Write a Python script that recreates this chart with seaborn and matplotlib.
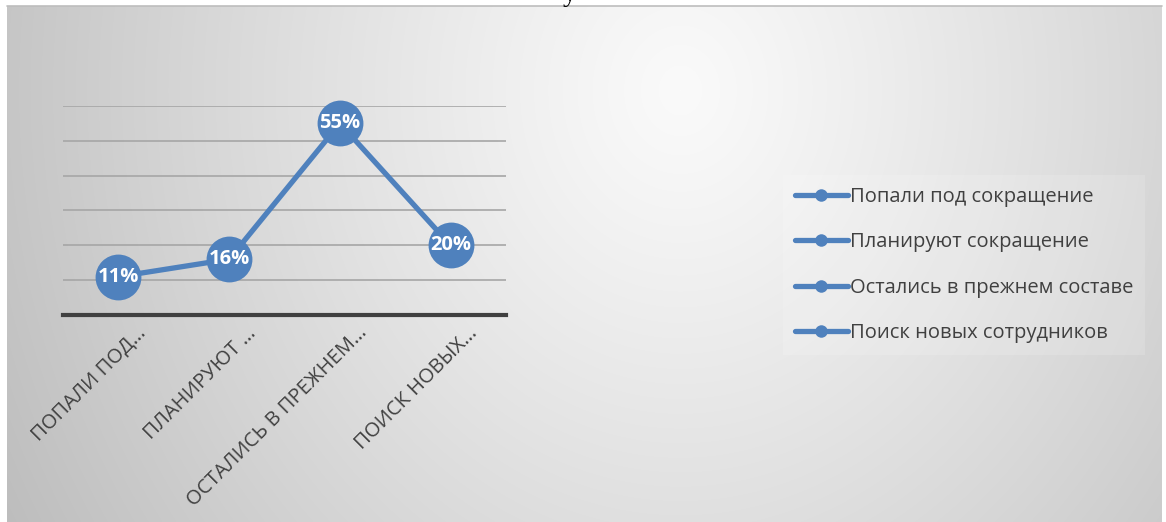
import numpy as np
import pandas as pd
import matplotlib
matplotlib.use("Agg")
import matplotlib.pyplot as plt
import matplotlib.transforms as mtrans
import seaborn as sns
from matplotlib.lines import Line2D

categories = ["Попали под сокращение", "Планируют сокращение",
              "Остались в прежнем составе", "Поиск новых сотрудников"]
tick_labels = ["ПОПАЛИ ПОД…", "ПЛАНИРУЮТ …", "ОСТАЛИСЬ В ПРЕЖНЕМ…", "ПОИСК НОВЫХ…"]
values = [11, 16, 55, 20]
value_labels = ["11%", "16%", "55%", "20%"]

sns.set_theme(style="white")
plt.rcParams['font.family'] = ['Open Sans', 'DejaVu Sans']

W, H = 1166, 522
fig = plt.figure(figsize=(W / 100, H / 100), dpi=100)
fig.patch.set_facecolor("white")

# background gradient frame
fx0, fx1, fy0, fy1 = 7, 1162, 6, 522
bg = fig.add_axes([fx0 / W, 1 - fy1 / H, (fx1 - fx0) / W, (fy1 - fy0) / H])
xx, yy = np.meshgrid(np.arange(fx0, fx1), np.arange(fy0, fy1))
r = np.sqrt(((xx - 680) / 650.0) ** 2 + ((yy - 90) / 750.0) ** 2)
v = np.clip(250 - 50 * r ** 1.15, 188, 250) / 255.0
img = np.dstack([v, v, v])
bg.imshow(img, aspect="auto", extent=[0, 1, 0, 1], interpolation="bilinear")
bg.set_axis_off()
fig.add_artist(Line2D([fx0 / W, fx1 / W], [1 - fy0 / H, 1 - fy0 / H], color="#bdbdbd", lw=1.2))
fig.text(570 / W, 1 - 1 / H, "у", family="Liberation Serif", fontsize=20,
         ha="center", va="baseline", color="black")

# main axes
px0, px1, py_top, py_bot = 63, 506, 106, 315
ax = fig.add_axes([px0 / W, 1 - py_bot / H, (px1 - px0) / W, (py_bot - py_top) / H])
ax.patch.set_alpha(0)

df = pd.DataFrame({"cat": tick_labels, "val": values})
color = "#4f81bd"
sns.lineplot(data=df, x="cat", y="val", ax=ax, color=color, linewidth=3.8,
             marker="o", markersize=33, markeredgewidth=0, sort=False, clip_on=False)
ax.set_xlim(-0.5, 3.5)
ax.set_ylim(0, 60)
ax.set_yticks(range(10, 61, 10))
ax.yaxis.grid(True, color="#a6a6a6", linewidth=1.2)
ax.set_axisbelow(True)
ax.tick_params(axis="y", left=False, labelleft=False)
ax.tick_params(axis="x", bottom=False, pad=2)
for s in ["top", "right", "left"]:
    ax.spines[s].set_visible(False)
ax.spines["bottom"].set_color("#404040")
ax.spines["bottom"].set_linewidth(3)
ax.set_xlabel("")
ax.set_ylabel("")
ax.set_xticks(range(len(tick_labels)))
ax.set_xticklabels(tick_labels, rotation=45, ha="right", rotation_mode="anchor",
                   fontsize=14.5, color="#404040")
offset = mtrans.ScaledTranslation(17 / 100, 3 / 100, fig.dpi_scale_trans)
for lbl in ax.get_xticklabels():
    lbl.set_transform(lbl.get_transform() + offset)

for i, (val, txt) in enumerate(zip(values, value_labels)):
    ax.text(i, val, txt, ha="center", va="center", color="white",
            fontsize=14.5, fontweight="bold", zorder=5)

handles = [Line2D([0], [0], color=color, lw=3.8, marker="o", markersize=9,
                  markeredgewidth=0, solid_capstyle="round") for _ in categories]
leg = fig.legend(handles, categories, loc="center left",
                 bbox_to_anchor=(773 / W, 1 - 265 / H), frameon=True,
                 fontsize=14.5, handlelength=2.6, handletextpad=0.1,
                 labelspacing=1.27, borderpad=0.6, fancybox=False)
leg.get_frame().set_facecolor("white")
leg.get_frame().set_alpha(0.15)
leg.get_frame().set_edgecolor("none")
for t in leg.get_texts():
    t.set_color("#404040")

fig.savefig("out.png", dpi=100)
